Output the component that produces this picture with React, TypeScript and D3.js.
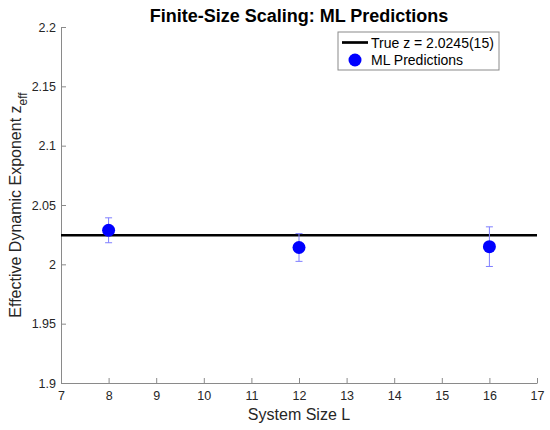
import React, { useRef, useEffect } from "react";
import * as d3 from "d3";

// Finite-size scaling: ML predictions of z_eff vs system size L
const SIZES = [8, 12, 16];
const Z_PRED = [2.0287, 2.0142, 2.0149];
const Z_ERR = [0.0105, 0.0117, 0.0167];
const TRUE_Z = 2.0245;
const TRUE_LABEL = "True z = 2.0245(15)";
const X_TICKS = [7, 8, 9, 10, 11, 12, 13, 14, 15, 16, 17];
const Y_TICKS = [1.9, 1.95, 2, 2.05, 2.1, 2.15, 2.2];

const W = 550;
const H = 430;
const M = { top: 27, right: 13, bottom: 47, left: 61 };
const FONT = "'Liberation Sans', Arial, Helvetica, sans-serif";
const AXIS = "#8a8a8a";
const TEXT = "#262626";
const BLUE = "#0000ff";
const ERR = "#7f7fff";

const App: React.FC = () => {
  const svgRef = useRef<SVGSVGElement>(null);

  useEffect(() => {
    const svgEl = svgRef.current;
    if (!svgEl) return;
    const svg = d3.select(svgEl);
    svg.selectAll("*").remove();

    const iW = W - M.left - M.right;
    const iH = H - M.top - M.bottom;
    const g = svg.append("g").attr("transform", `translate(${M.left},${M.top})`);

    const x = d3.scaleLinear().domain([7, 17]).range([0, iW]);
    const y = d3.scaleLinear().domain([1.9, 2.2]).range([iH, 0]);

    // Axes (MATLAB style: ticks inward, no box)
    g.append("g")
      .attr("transform", `translate(0,${iH})`)
      .call(d3.axisBottom(x).tickValues(X_TICKS).tickSize(-5).tickSizeOuter(0).tickPadding(8).tickFormat(d => String(d)))
      .call(ax => ax.select(".domain").attr("stroke", AXIS))
      .call(ax => ax.selectAll(".tick line").attr("stroke", AXIS))
      .call(ax => ax.selectAll<SVGTextElement, unknown>("text")
        .attr("font-size", 12.5).attr("font-family", FONT).attr("fill", TEXT));

    g.append("g")
      .call(d3.axisLeft(y).tickValues(Y_TICKS).tickSize(-5).tickSizeOuter(0).tickPadding(5).tickFormat(d => String(d)))
      .call(ax => ax.select(".domain").attr("stroke", AXIS))
      .call(ax => ax.selectAll(".tick line").attr("stroke", AXIS))
      .call(ax => ax.selectAll<SVGTextElement, unknown>("text")
        .attr("font-size", 12.5).attr("font-family", FONT).attr("fill", TEXT));

    // True z reference line
    g.append("line")
      .attr("x1", x(7)).attr("x2", x(17))
      .attr("y1", y(TRUE_Z)).attr("y2", y(TRUE_Z))
      .attr("stroke", "#000").attr("stroke-width", 2.7);

    // Error bars
    const pts = SIZES.map((L, i) => ({ L, z: Z_PRED[i], e: Z_ERR[i] }));
    const cap = 3.5;
    const eb = g.selectAll("g.err").data(pts).join("g").attr("class", "err")
      .attr("stroke", ERR).attr("stroke-width", 1);
    eb.append("line")
      .attr("x1", d => x(d.L)).attr("x2", d => x(d.L))
      .attr("y1", d => y(d.z - d.e)).attr("y2", d => y(d.z + d.e));
    eb.append("line")
      .attr("x1", d => x(d.L) - cap).attr("x2", d => x(d.L) + cap)
      .attr("y1", d => y(d.z + d.e)).attr("y2", d => y(d.z + d.e));
    eb.append("line")
      .attr("x1", d => x(d.L) - cap).attr("x2", d => x(d.L) + cap)
      .attr("y1", d => y(d.z - d.e)).attr("y2", d => y(d.z - d.e));

    // Markers
    g.selectAll("circle.pt").data(pts).join("circle").attr("class", "pt")
      .attr("cx", d => x(d.L)).attr("cy", d => y(d.z))
      .attr("r", 6.5).attr("fill", BLUE);

    // Title
    svg.append("text")
      .attr("x", M.left + iW / 2).attr("y", 21.5)
      .attr("text-anchor", "middle")
      .attr("font-family", FONT).attr("font-size", 18).attr("font-weight", "bold")
      .attr("fill", "#000")
      .text("Finite-Size Scaling: ML Predictions");

    // X label
    svg.append("text")
      .attr("x", M.left + iW / 2).attr("y", 420)
      .attr("text-anchor", "middle")
      .attr("font-family", FONT).attr("font-size", 16).attr("fill", TEXT)
      .text("System Size L");

    // Y label with subscript
    const yl = svg.append("text")
      .attr("transform", `translate(21,${M.top + iH / 2}) rotate(-90)`)
      .attr("text-anchor", "middle")
      .attr("font-family", FONT).attr("font-size", 16).attr("fill", TEXT);
    yl.append("tspan").text("Effective Dynamic Exponent z");
    yl.append("tspan").attr("font-size", 12).attr("dy", 6).text("eff");

    // Legend
    const lg = svg.append("g").attr("transform", `translate(${M.left + iW - 199},${M.top + 5})`);
    lg.append("rect")
      .attr("x", 0).attr("y", 0).attr("width", 161).attr("height", 38)
      .attr("fill", "#fff").attr("stroke", AXIS).attr("stroke-width", 1);
    lg.append("line")
      .attr("x1", 4).attr("x2", 30).attr("y1", 10.5).attr("y2", 10.5)
      .attr("stroke", "#000").attr("stroke-width", 2.7);
    lg.append("text")
      .attr("x", 33).attr("y", 15.5)
      .attr("font-family", FONT).attr("font-size", 14).attr("fill", "#000")
      .text(TRUE_LABEL);
    lg.append("circle").attr("cx", 17).attr("cy", 28).attr("r", 6.5).attr("fill", BLUE);
    lg.append("text")
      .attr("x", 33).attr("y", 33)
      .attr("font-family", FONT).attr("font-size", 14).attr("fill", "#000")
      .text("ML Predictions");
  }, []);

  return (
    <div style={{ position: "absolute", left: 0, top: 0, background: "#fff" }}>
      <svg ref={svgRef} width={W} height={H} style={{ display: "block" }} />
    </div>
  );
};

export default App;
